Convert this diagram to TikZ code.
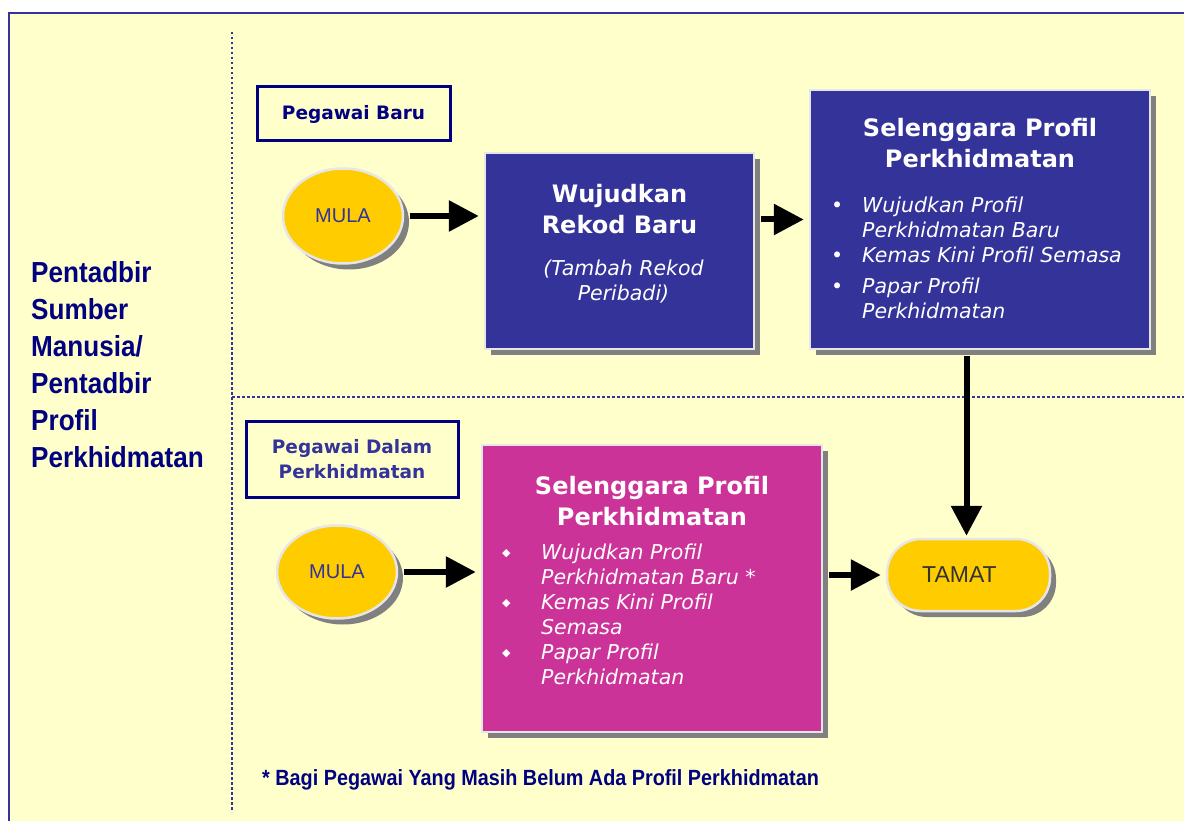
\documentclass[tikz,border=0pt]{standalone}
\usepackage{fontspec}
\setmainfont{DejaVu Sans}
\newfontfamily\arialfont{Liberation Sans}
\newfontfamily\arialnarrow[FakeStretch=0.9]{Liberation Sans}
\usetikzlibrary{positioning,shapes.geometric,shadows,arrows.meta}

\definecolor{pagebg}{HTML}{FFFFCC}
\definecolor{frameblue}{HTML}{333399}
\definecolor{navy}{HTML}{000080}
\definecolor{mulagold}{HTML}{FFCC00}
\definecolor{procpink}{HTML}{CC3399}
\definecolor{edgegrey}{HTML}{E6E6E6}
\definecolor{shadowgrey}{HTML}{808080}
\definecolor{darktext}{HTML}{333333}

\tikzset{
  shadowed/.style={drop shadow={shadow xshift=6pt, shadow yshift=-6pt, fill=shadowgrey, opacity=1}},
  startnode/.style={ellipse, shadowed, fill=mulagold, draw=edgegrey, line width=2.5pt,
    minimum width=120pt, minimum height=95pt, inner sep=0pt, text=frameblue,
    font=\arialfont\fontsize{20}{24}\selectfont},
  endnode/.style={rectangle, rounded corners=34pt, shadowed, fill=mulagold, draw=edgegrey,
    line width=2.5pt, minimum width=163pt, minimum height=72pt, text=darktext,
    font=\arialfont\fontsize{23}{26}\selectfont},
  procbox/.style={rectangle, shadowed, draw=edgegrey, line width=2.5pt, inner sep=0pt},
  boxtitle/.style={text=white, align=center, inner sep=0pt,
    font=\bfseries\fontsize{24}{31}\selectfont},
  boxitems/.style={text=white, inner sep=0pt, font=\itshape\fontsize{20.5}{25}\selectfont},
  rolebox/.style={draw=navy, line width=3pt, fill=pagebg, align=center, inner sep=0pt,
    font=\bfseries\fontsize{18.5}{25}\selectfont},
  flow/.style={line width=6pt, -{Triangle[length=30pt,width=30pt]}, shorten <=6pt, shorten >=5pt},
  divider/.style={frameblue, line width=2.5pt, dash pattern=on 2.5pt off 2.5pt},
}

\newcommand{\dia}{\raisebox{3pt}{\fontsize{11}{11}\selectfont ◆}}

\begin{document}
\begin{tikzpicture}[x=1pt, y=-1pt]

  \useasboundingbox (0,0) rectangle (1184,821);
  \clip (0,0) rectangle (1184,821);
  \fill[white] (0,0) rectangle (1184,821);
  \draw[frameblue, line width=2.5pt, fill=pagebg] (9,13) rectangle (1200,840);

  \draw[divider] (232,32) -- (232,812);
  \draw[divider] (232,397) -- (1184,397);

  \node (actor) [anchor=north west, align=left, inner sep=0pt, text=navy,
    font=\arialnarrow\bfseries\fontsize{29}{37}\selectfont] at (31,261)
    {Pentadbir\\Sumber\\Manusia/\\Pentadbir\\Profil\\Perkhidmatan};

  \node (baru) [rolebox, text=navy, minimum width=193pt, minimum height=54pt] at (353.5,114) {Pegawai Baru};
  \node (dalam) [rolebox, text=frameblue, minimum width=212pt, minimum height=76pt] at (352,459) {Pegawai Dalam\\Perkhidmatan};

  \node (mula1) [startnode] at (343,216) {MULA};
  \node (rekod) [procbox, fill=frameblue, minimum width=269pt, minimum height=196pt] at (619.5,251) {};
  \node (rekodt) [boxtitle, below=32pt of rekod.north] {Wujudkan\\Rekod Baru};
  \node (rekodn) [boxitems, align=center, below=26pt of rekodt, xshift=4pt] {(Tambah Rekod\\Peribadi)};

  \node (prof1) [procbox, fill=frameblue, minimum width=340pt, minimum height=259pt] at (980,219.5) {};
  \node (prof1t) [boxtitle, below=29pt of prof1.north] {Selenggara Profil\\Perkhidmatan};
  \node (prof1i) [boxitems, anchor=north west] at (831,195) {%
    \begin{tabular}{@{}p{31pt}@{}l@{}}
      \textbullet & Wujudkan Profil\\
                  & Perkhidmatan Baru\\
      \textbullet & Kemas Kini Profil Semasa\\[6pt]
      \textbullet & Papar Profil\\
                  & Perkhidmatan
    \end{tabular}};

  \node (mula2) [startnode, minimum height=93pt] at (337,572) {MULA};
  \node (prof2) [procbox, fill=procpink, minimum width=340pt, minimum height=287pt] at (652,588.5) {};
  \node (prof2t) [boxtitle, below=32pt of prof2.north] {Selenggara Profil\\Perkhidmatan};
  \node (prof2i) [boxitems, anchor=north west] at (502,542) {%
    \begin{tabular}{@{}p{39pt}@{}l@{}}
      \dia & Wujudkan Profil\\
           & Perkhidmatan Baru *\\
      \dia & Kemas Kini Profil\\
           & Semasa\\
      \dia & Papar Profil\\
           & Perkhidmatan
    \end{tabular}};

  \node (tamat) [endnode] at (968.5,575) {\hspace*{-18pt}TAMAT};

  \draw[flow] (mula1.east) -- (mula1.east -| rekod.west);
  \draw[flow] (rekod.east |- prof1.west) -- (prof1.west);
  \draw[flow, shorten >=2pt] ([xshift=-2pt]tamat.north |- prof1.south) -- ([xshift=-2pt]tamat.north);
  \draw[flow] (mula2.east) -- (mula2.east -| prof2.west);
  \draw[flow] (prof2.east |- tamat.west) -- (tamat.west);

  \node (footnote) [anchor=west, inner sep=0pt, text=navy,
    font=\arialnarrow\bfseries\fontsize{22}{26}\selectfont] at (262,780)
    {* Bagi Pegawai Yang Masih Belum Ada Profil Perkhidmatan};

\end{tikzpicture}
\end{document}
